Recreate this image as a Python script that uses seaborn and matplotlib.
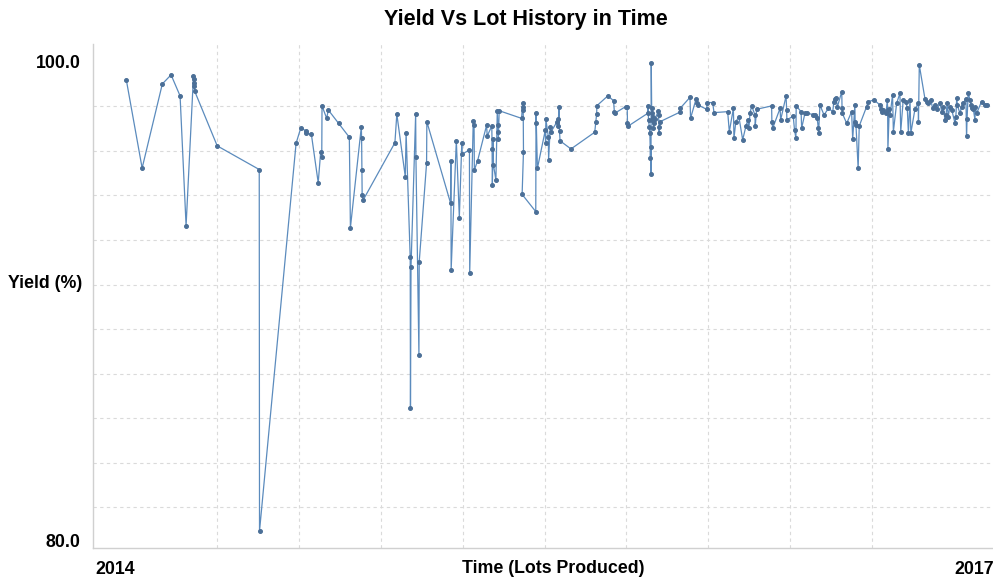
import numpy as np
import pandas as pd
import matplotlib
matplotlib.use("Agg")
import matplotlib.pyplot as plt
import seaborn as sns

# lot time in decimal years, yield in %
lot_time = [
    2013.968, 2014.026, 2014.100, 2014.132, 2014.165, 2014.187, 2014.214, 2014.215,
    2014.216, 2014.217, 2014.218, 2014.301, 2014.455, 2014.456, 2014.590, 2014.607,
    2014.625, 2014.627, 2014.646, 2014.671, 2014.680, 2014.684, 2014.685, 2014.702,
    2014.708, 2014.746, 2014.785, 2014.789, 2014.829, 2014.830, 2014.831, 2014.832,
    2014.836, 2014.952, 2014.959, 2014.990, 2014.993, 2015.008, 2015.009, 2015.011,
    2015.028, 2015.029, 2015.040, 2015.041, 2015.068, 2015.069, 2015.156, 2015.157,
    2015.158, 2015.177, 2015.188, 2015.197, 2015.198, 2015.225, 2015.226, 2015.239,
    2015.242, 2015.243, 2015.255, 2015.288, 2015.290, 2015.307, 2015.308, 2015.309,
    2015.312, 2015.313, 2015.322, 2015.327, 2015.329, 2015.330, 2015.331, 2015.334,
    2015.416, 2015.420, 2015.421, 2015.422, 2015.423, 2015.418, 2015.468, 2015.469,
    2015.470, 2015.474, 2015.503, 2015.504, 2015.505, 2015.514, 2015.515, 2015.521,
    2015.524, 2015.546, 2015.549, 2015.551, 2015.553, 2015.555, 2015.557, 2015.597,
    2015.684, 2015.688, 2015.691, 2015.692, 2015.732, 2015.753, 2015.756, 2015.757,
    2015.797, 2015.803, 2015.804, 2015.807, 2015.878, 2015.880, 2015.881, 2015.884,
    2015.886, 2015.888, 2015.889, 2015.890, 2015.891, 2015.893, 2015.894, 2015.895,
    2015.897, 2015.899, 2015.901, 2015.905, 2015.917, 2015.918, 2015.920, 2015.921,
    2015.923, 2015.996, 2015.997, 2016.033, 2016.035, 2016.055, 2016.060, 2016.062,
    2016.094, 2016.096, 2016.116, 2016.121, 2016.171, 2016.177, 2016.192, 2016.194,
    2016.201, 2016.212, 2016.226, 2016.238, 2016.245, 2016.249, 2016.253, 2016.259,
    2016.271, 2016.272, 2016.277, 2016.332, 2016.333, 2016.336, 2016.363, 2016.365,
    2016.385, 2016.387, 2016.388, 2016.411, 2016.416, 2016.421, 2016.422, 2016.440,
    2016.442, 2016.454, 2016.463, 2016.485, 2016.491, 2016.499, 2016.503, 2016.504,
    2016.509, 2016.524, 2016.540, 2016.556, 2016.560, 2016.564, 2016.568, 2016.573,
    2016.589, 2016.590, 2016.591, 2016.607, 2016.625, 2016.629, 2016.637, 2016.638,
    2016.641, 2016.649, 2016.653, 2016.680, 2016.686, 2016.707, 2016.729, 2016.733,
    2016.737, 2016.741, 2016.751, 2016.756, 2016.757, 2016.758, 2016.763, 2016.766,
    2016.775, 2016.778, 2016.790, 2016.802, 2016.805, 2016.814, 2016.824, 2016.829,
    2016.833, 2016.839, 2016.842, 2016.857, 2016.869, 2016.870, 2016.873, 2016.894,
    2016.900, 2016.906, 2016.915, 2016.922, 2016.930, 2016.937, 2016.949, 2016.955,
    2016.961, 2016.967, 2016.971, 2016.975, 2016.979, 2016.985, 2016.992, 2017.004,
    2017.007, 2017.010, 2017.012, 2017.022, 2017.028, 2017.032, 2017.044, 2017.046,
    2017.048, 2017.052, 2017.059, 2017.062, 2017.065, 2017.071, 2017.077, 2017.078,
    2017.083, 2017.101, 2017.114, 2017.120,
]
yield_pct = [
    99.25, 95.56, 99.08, 99.46, 98.58, 93.15, 99.40, 99.30,
    99.10, 99.00, 98.79, 96.49, 95.50, 80.38, 96.60, 97.23,
    97.13, 97.02, 96.97, 94.95, 96.22, 96.01, 98.16, 97.64,
    97.99, 97.43, 96.85, 93.07, 97.29, 96.81, 95.48, 94.44,
    94.23, 96.62, 97.82, 95.20, 97.04, 91.83, 85.51, 91.44,
    97.82, 96.01, 87.73, 91.63, 95.76, 97.50, 94.09, 95.87,
    91.30, 96.71, 93.49, 96.60, 96.14, 96.32, 91.18, 97.54,
    97.36, 95.48, 95.87, 97.36, 96.90, 97.32, 96.35, 94.85,
    96.77, 95.69, 95.06, 97.96, 97.36, 97.08, 96.77, 97.96,
    97.64, 98.27, 98.13, 97.99, 96.25, 94.46, 93.74, 97.85,
    97.43, 95.55, 97.15, 96.62, 97.60, 96.88, 95.90, 97.29,
    97.08, 97.50, 97.30, 97.60, 98.10, 97.10, 96.70, 96.36,
    97.06, 97.50, 97.82, 98.17, 98.58, 98.38, 97.90, 97.85,
    98.13, 98.10, 97.46, 97.32, 97.85, 98.16, 97.57, 97.29,
    97.02, 95.97, 96.46, 95.30, 99.97, 97.57, 97.85, 98.06,
    97.71, 97.23, 97.43, 97.60, 97.96, 97.78, 97.02, 97.29,
    97.50, 97.90, 98.06, 98.52, 97.64, 98.44, 98.27, 98.20,
    98.02, 98.30, 98.30, 97.88, 97.92, 97.08, 98.06, 96.81,
    97.50, 97.71, 96.74, 97.32, 97.57, 97.24, 97.87, 98.16,
    97.78, 97.32, 98.02, 98.16, 97.50, 97.23, 98.06, 97.57,
    98.58, 97.99, 97.57, 97.74, 97.15, 96.81, 98.16, 97.92,
    97.23, 97.85, 97.85, 97.80, 97.78, 97.64, 97.23, 97.02,
    98.20, 97.78, 98.06, 97.92, 98.34, 98.44, 98.48, 98.13,
    98.76, 98.06, 97.85, 97.43, 97.92, 96.77, 98.20, 97.50,
    97.36, 95.55, 97.32, 98.13, 98.34, 98.41, 98.20, 98.02,
    97.92, 97.99, 97.85, 98.41, 97.99, 96.35, 98.02, 97.78,
    98.62, 97.08, 98.27, 98.69, 97.08, 98.41, 98.34, 98.06,
    97.04, 98.41, 97.02, 98.02, 98.27, 97.50, 99.87, 98.44,
    98.34, 98.27, 98.41, 98.06, 98.20, 98.02, 98.27, 97.92,
    98.13, 97.57, 97.78, 98.27, 97.71, 98.13, 97.99, 97.43,
    97.71, 98.48, 98.20, 97.85, 98.13, 98.27, 98.44, 96.90,
    97.60, 98.69, 98.41, 98.20, 98.06, 98.02, 97.57, 98.13,
    97.85, 98.34, 98.20, 98.20,
]

df = pd.DataFrame({"Time": lot_time, "Yield": yield_pct})

sns.set_style("white")
plt.rcParams["font.family"] = ["Liberation Sans", "DejaVu Sans"]
plt.rcParams["text.color"] = "black"
plt.rcParams["xtick.color"] = "black"
plt.rcParams["ytick.color"] = "black"
plt.rcParams["axes.labelcolor"] = "black"

fig = plt.figure(figsize=(9.93, 5.8), dpi=100)
ax = fig.add_axes([93 / 993, 1 - 548 / 580, 900 / 993, 504 / 580])

sns.lineplot(data=df, x="Time", y="Yield", estimator=None, sort=False,
             color="#5b8bbd", linewidth=0.9, marker="o", markersize=2.8,
             markerfacecolor="#4b6f97", markeredgecolor="#4b6f97", ax=ax)

# axis ranges
ax.set_xlim(2013.846, 2017.143)
ax.set_ylim(79.67, 100.75)

# grid on minor ticks, labels on major
grid_y = [100 - k * 1.862 for k in range(11)]
grid_x = [2014 + k * 0.3 for k in range(11)]
ax.set_yticks(grid_y, minor=True)
ax.set_xticks(grid_x, minor=True)
ax.set_yticks([80, 100])
ax.set_yticklabels(["80.0", "100.0"], fontsize=12.8, fontweight="bold")
ax.set_xticks([2014, 2017])
ax.set_xticklabels(["2014", "2017"], fontsize=12.8, fontweight="bold")
xt = ax.get_xticklabels()
xt[0].set_ha("right")
xt[1].set_ha("left")
ax.tick_params(axis="y", which="major", length=0, pad=9)
ax.tick_params(axis="x", which="major", length=0, pad=9)
ax.tick_params(axis="y", which="minor", length=3, color="#d6d6d6", width=0.8)
ax.tick_params(axis="x", which="minor", length=0)
ax.grid(False, which="major")
ax.grid(True, which="minor", color="#dadada", linestyle=(0, (3, 3)), linewidth=0.8)

for s in ["top", "right"]:
    ax.spines[s].set_visible(False)
for s in ["left", "bottom"]:
    ax.spines[s].set_color("#d0d0d0")
    ax.spines[s].set_linewidth(1.0)

ax.set_ylabel("Yield (%)", fontsize=12.8, fontweight="bold", rotation=0, ha="center", va="center")
ax.yaxis.set_label_coords(-0.0535, 0.524)
ax.set_xlabel("Time (Lots Produced)", fontsize=12.8, fontweight="bold", va="center")
ax.xaxis.set_label_coords(0.511, -0.04)

fig.suptitle("Yield Vs Lot History in Time", x=0.53, y=0.985, fontsize=15.5, fontweight="bold")

fig.savefig("out.png", dpi=100)
